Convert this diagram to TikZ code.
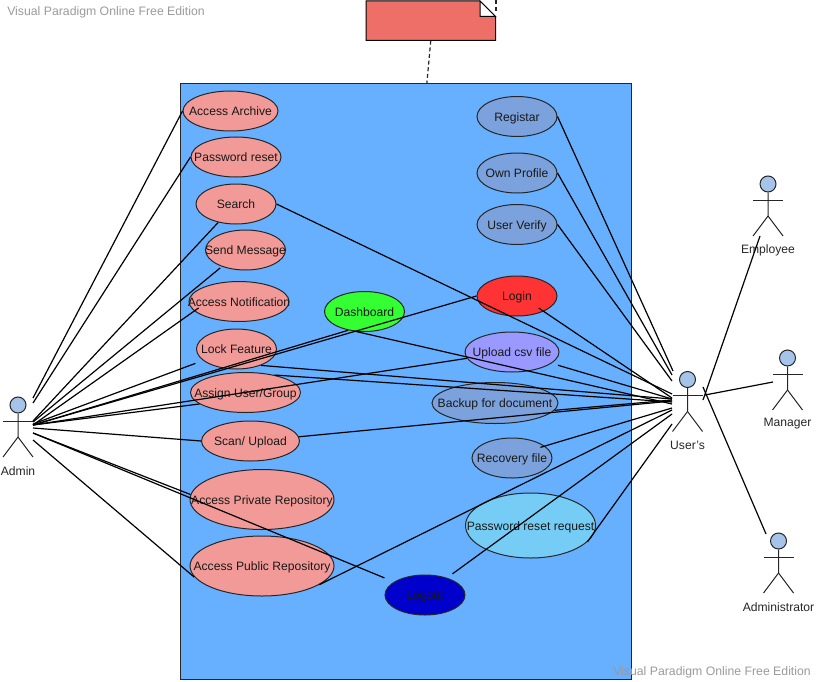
\documentclass[tikz,border=0pt]{standalone}
\usepackage{fontspec}
\setmainfont{Liberation Sans}
\usepackage{xcolor}
\usetikzlibrary{shapes,positioning,calc}

\definecolor{sysblue}{HTML}{66B0FF}
\definecolor{ucpink}{HTML}{F29A97}
\definecolor{ucsteel}{HTML}{7BA2DC}
\definecolor{ucsky}{HTML}{75CDF5}
\definecolor{notered}{HTML}{EE6E68}
\definecolor{headblue}{HTML}{A6C4EA}
\definecolor{wmgray}{HTML}{9A9A9A}

\newcommand{\uctext}[1]{\makebox[0pt]{\raisebox{-3.4pt}[0pt][0pt]{#1}}}
\newcommand{\drawactor}[4]{%
    \node[actorhead] (#1) at (#2,#3-16) {};
    \draw[stick] (#2-15,#3) -- (#2+15,#3);
    \draw[stick] (#1.south) -- (#2,#3+16) -- (#2-15,#3+36);
    \draw[stick] (#2,#3+16) -- (#2+15,#3+36);
    \node[actorname] (#1name) at (#2,#3+50) {#4};
}

\begin{document}
\begin{tikzpicture}[
    x=0.75pt, y=-0.75pt,
    uc/.style 2 args={ellipse, draw=black!85, line width=0.75pt, inner sep=0pt, text=black!90, font=\fontsize{9.1}{10}\selectfont, minimum width=#1*0.75pt, minimum height=#2*0.75pt},
    assoc/.style={line width=0.9pt, black},
    stick/.style={line width=0.75pt, black!85},
    actorhead/.style={circle, draw=black!85, fill=headblue, line width=0.75pt, inner sep=0pt, minimum size=12pt},
    actorname/.style={font=\fontsize{9.1}{10}\selectfont, text=black!85, inner sep=0pt},
    watermark/.style={font=\fontsize{9.2}{10}\selectfont, text=wmgray, inner sep=0pt},
    notelink/.style={line width=0.9pt, black!85, dash pattern=on 3pt off 2pt}
]
    \useasboundingbox (0,0) rectangle (816,681);

    \node[watermark, anchor=west] (markTop) at (7,12) {Visual Paradigm Online Free Edition};

    % note
    \node[minimum width=96.7pt, minimum height=29.5pt, inner sep=0pt] (note) at (430.75,20.75) {};
    \draw[fill=notered, draw=black, line width=0.75pt] (366,1) -- (480,1) -- (495.5,16.5) -- (495.5,40.5) -- (366,40.5) -- cycle;
    \draw[fill=white, draw=black, line width=0.75pt] (480,1) -- (480,16.5) -- (495.5,16.5) -- cycle;
    \coordinate (noteTail) at (496,11);
    \coordinate (noteTop) at (496,0);
    \draw[notelink] (noteTail) -- (noteTop);

    % system box
    \node[rectangle, draw=black!85, fill=sysblue, line width=0.75pt, inner sep=0pt, minimum width=338.25pt, minimum height=447pt] (system) at (406,381.75) {};
    \draw[notelink] (note.south) -- (system.86);

    % left column
    \node[uc={95}{40}, fill=ucpink] (archive) at (230.5,111) {\uctext{Access Archive}};
    \node[uc={90}{40}, fill=ucpink] (pwreset) at (236,157) {\uctext{Password reset}};
    \node[uc={80}{40}, fill=ucpink] (search) at (236,204) {\uctext{Search}};
    \node[uc={80}{40}, fill=ucpink] (message) at (245.5,250) {\uctext{Send Message}};
    \node[uc={100}{40}, fill=ucpink] (notif) at (239,301.5) {\uctext{Access Notification}};
    \node[uc={80}{40}, fill=ucpink] (lock) at (236.5,349) {\uctext{Lock Feature}};
    \node[uc={110}{40}, fill=ucpink] (assign) at (245.5,392.5) {\uctext{Assign User/Group}};
    \node[uc={98}{40}, fill=ucpink] (scan) at (250.5,441) {\uctext{Scan/ Upload}};
    \node[uc={144}{60}, fill=ucpink] (private) at (262,499.5) {\uctext{Access Private Repository}};
    \node[uc={144}{60}, fill=ucpink] (public) at (262,566) {\uctext{Access Public Repository}};

    % middle and right column
    \node[uc={80}{40}, fill=green!80!white] (dash) at (364.5,311.5) {\uctext{Dashboard}};
    \node[uc={80}{40}, fill=blue!80!black] (logout) at (425,595) {\uctext{Logout}};
    \node[uc={80}{40}, fill=ucsteel] (registar) at (517,116.5) {\uctext{Registar}};
    \node[uc={80}{40}, fill=ucsteel] (profile) at (517,173) {\uctext{Own Profile}};
    \node[uc={80}{40}, fill=ucsteel] (verify) at (517,224.5) {\uctext{User Verify}};
    \node[uc={80}{40}, fill=red!80!white] (login) at (517,296) {\uctext{Login}};
    \node[uc={94}{40}, fill=blue!40!white] (upload) at (512,352) {\uctext{Upload csv file}};
    \node[uc={126}{41}, fill=ucsteel] (backup) at (495,403) {\uctext{Backup for document}};
    \node[uc={80}{40}, fill=ucsteel] (recovery) at (512,458) {\uctext{Recovery file}};
    \node[uc={130}{65}, fill=ucsky] (pwrequest) at (530.5,525.5) {\uctext{Password reset request}};

    % actors
    \drawactor{admin}{18}{421}{Admin}
    \drawactor{users}{687.5}{395.5}{User's}
    \drawactor{employee}{768}{200}{Employee}
    \drawactor{manager}{787.5}{374}{Manager}
    \drawactor{administrator}{778.5}{557}{Administrator}

    % free ends at the actors
    \foreach \nm/\yy in {a/398,b/403,c/421,d/422,e/425,f/424,g/425,h/425,i/425,j/425,k/428,l/433,m/433,n/440}
        \coordinate (adm\nm) at (33,\yy);
    \foreach \nm/\xx/\yy in {a/673/371,b/672/375,c/672/381,d/672/394,e/672/398,f/672/404,g/672/399,h/672/399,i/672/402,j/672/400,k/672/401,l/672/408,m/672/410,n/672/414,o/672/424}
        \coordinate (usr\nm) at (\xx,\yy);
    \coordinate (usrE) at (703,400);
    \coordinate (usrM) at (705,395);
    \coordinate (usrA) at (703,387);
    \coordinate (empEnd) at (760,236);
    \coordinate (manEnd) at (773,382);
    \coordinate (admEnd) at (766,534);

    % admin links
    \draw[assoc] (adma) -- (archive.180);
    \draw[assoc] (admb) -- (pwreset.180);
    \draw[assoc] (admc) -- (search.226);
    \draw[assoc, shorten >=1.5pt] (admd) -- (message.215);
    \draw[assoc, shorten >=-4pt] (adme) -- (notif.192);
    \draw[assoc, shorten >=6pt] (admf) -- (lock.199);
    \draw[assoc] (admg) -- (dash.229);
    \draw[assoc] (admh) -- (login.180);
    \draw[assoc] (admi) -- (upload.188);
    \draw[assoc] (admj) -- (assign.194);
    \draw[assoc] (admk) -- (scan.180);
    \draw[assoc] (adml) -- (private.176);
    \draw[assoc, shorten >=7.7pt] (admm) -- (logout.157);
    \draw[assoc, shorten >=2pt] (admn) -- (public.191);

    % user links
    \draw[assoc] (registar.0) -- (usra);
    \draw[assoc] (profile.0) -- (usrb);
    \draw[assoc] (verify.0) -- (usrc);
    \draw[assoc] (search.0) -- (usrd);
    \draw[assoc, shorten <=-4.5pt] (login.330) -- (usre);
    \draw[assoc] (dash.248) -- (usrf);
    \draw[assoc, shorten <=5pt] (upload.344) -- (usrg);
    \draw[assoc] (lock.326) -- (usrh);
    \draw[assoc] (assign.31) -- (usri);
    \draw[assoc] (backup.353) -- (usrj);
    \draw[assoc] (scan.5) -- (usrk);
    \draw[assoc, shorten <=-3.5pt] (recovery.20) -- (usrl);
    \draw[assoc] (public.342) -- (usrm);
    \draw[assoc, shorten <=5pt] (logout.38) -- (usrn);
    \draw[assoc] (pwrequest.344) -- (usro);

    % generalisations
    \draw[assoc] (usrE) -- (empEnd);
    \draw[assoc] (usrM) -- (manEnd);
    \draw[assoc] (usrA) -- (admEnd);

    \node[watermark, anchor=west] (markBottom) at (613,672) {Visual Paradigm Online Free Edition};

\end{tikzpicture}
\end{document}
